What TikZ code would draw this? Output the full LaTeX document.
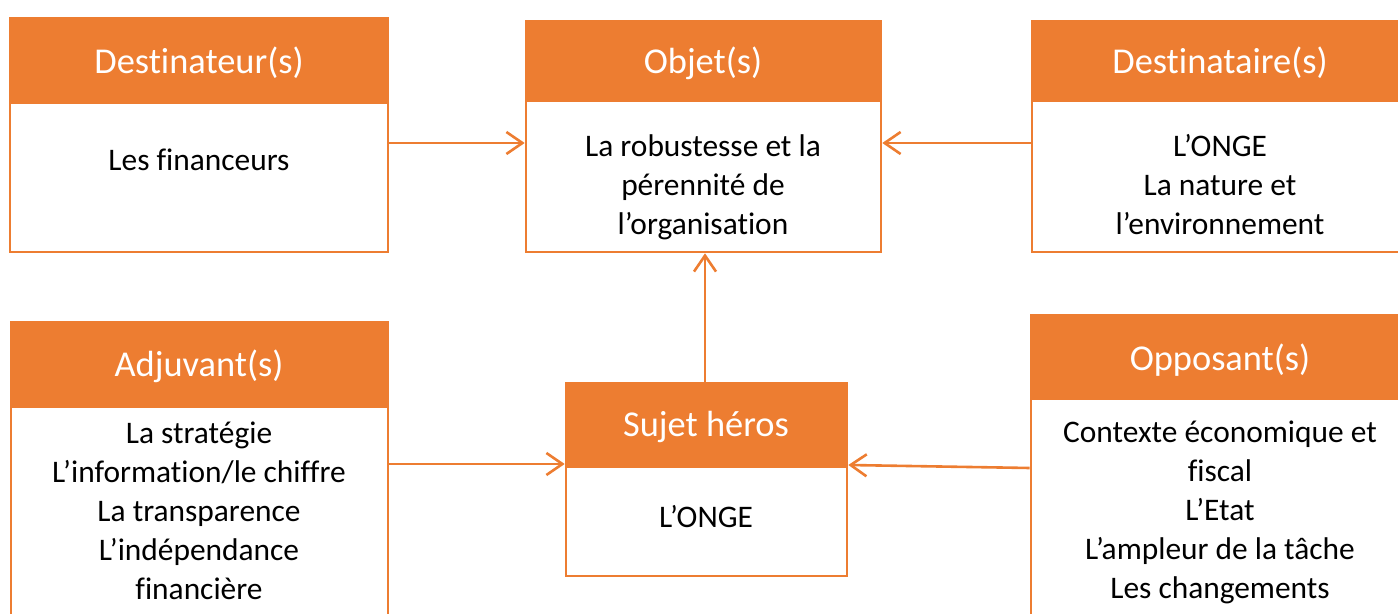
\documentclass[tikz,border=0pt]{standalone}
\usepackage{fontspec}
\setmainfont{Carlito}[Ligatures=NoCommon]
\usetikzlibrary{arrows.meta,fit}
\definecolor{orng}{HTML}{ED7D31}
\tikzset{
  hdr/.style={fill=orng,draw=orng,line width=1.2pt,inner sep=0pt},
  bodybox/.style={draw=orng,fill=white,line width=1.3pt,inner sep=0pt},
  htext/.style={text=white,anchor=base,font=\fontsize{18.2}{21}\selectfont,inner sep=0pt},
  btext/.style={text=black,anchor=base,align=center,font=\fontsize{15.7}{19.5}\selectfont,inner sep=0pt},
  arr/.style={draw=orng,line width=1.3pt,-{Straight Barb[length=8pt,width=11pt,line width=1.3pt]}}
}
\begin{document}
\begin{tikzpicture}[x=0.5pt,y=-0.5pt]
\useasboundingbox (0,0) rectangle (1398,614);
\clip (0,0) rectangle (1398,614);
% Destinateur
\node[bodybox,fit={(10,103) (388,252)}] (b1) {};
\node[hdr,fit={(10,18) (388,103)}] (h1) {};
% Objet
\node[bodybox,fit={(526,101) (881,252)}] (b2) {};
\node[hdr,fit={(526,21) (881,101)}] (h2) {};
% Destinataire
\node[bodybox,fit={(1032,101) (1410,252)}] (b3) {};
\node[hdr,fit={(1032,21) (1410,101)}] (h3) {};
% Adjuvant
\node[bodybox,fit={(11,407) (388,630)}] (b4) {};
\node[hdr,fit={(11,322) (388,407)}] (h4) {};
% Sujet
\node[bodybox,fit={(566,467) (847,576)}] (b5) {};
\node[hdr,fit={(566,383) (847,467)}] (h5) {};
% Opposant
\node[bodybox,fit={(1031,399) (1410,630)}] (b6) {};
\node[hdr,fit={(1031,315) (1410,399)}] (h6) {};
% header texts
\node[htext] (t1) at (199,74) {Destinateur(s)};
\node[htext] (t2) at (703,74) {Objet(s)};
\node[htext] (t3) at (1220,74) {Destinataire(s)};
\node[htext] (t4) at (199,377) {Adjuvant(s)};
\node[htext] (t5) at (706,437) {Sujet héros};
\node[htext] (t6) at (1220,371) {Opposant(s)};
% body texts (base anchor = last line baseline)
\node[btext] (c1) at (199,171) {Les financeurs};
\node[btext] (c2) at (703,235) {La robustesse et la\\pérennité de\\l’organisation};
\node[btext] (c3) at (1220,235) {L’ONGE\\La nature et\\l’environnement};
\node[btext] (c4) at (199,599) {La stratégie\\L’information/le chiffre\\La transparence\\L’indépendance\\financière};
\node[btext] (c5) at (706,528) {L’ONGE};
\node[btext] (c6) at (1220,598) {Contexte économique et\\fiscal\\L’Etat\\L’ampleur de la tâche\\Les changements};
% arrows
\draw[arr] (b1.east |- 0,143) -- (b2.west |- 0,143);
\draw[arr] (b3.west |- 0,143) -- (b2.east |- 0,143);
\draw[arr] (h5.north -| 705,0) -- (b2.south -| 705,0);
\draw[arr] (b4.east |- 0,464) -- (b5.west |- 0,464);
\draw[arr] (b6.west |- 0,468) -- (b5.east |- 0,465);
\end{tikzpicture}
\end{document}
